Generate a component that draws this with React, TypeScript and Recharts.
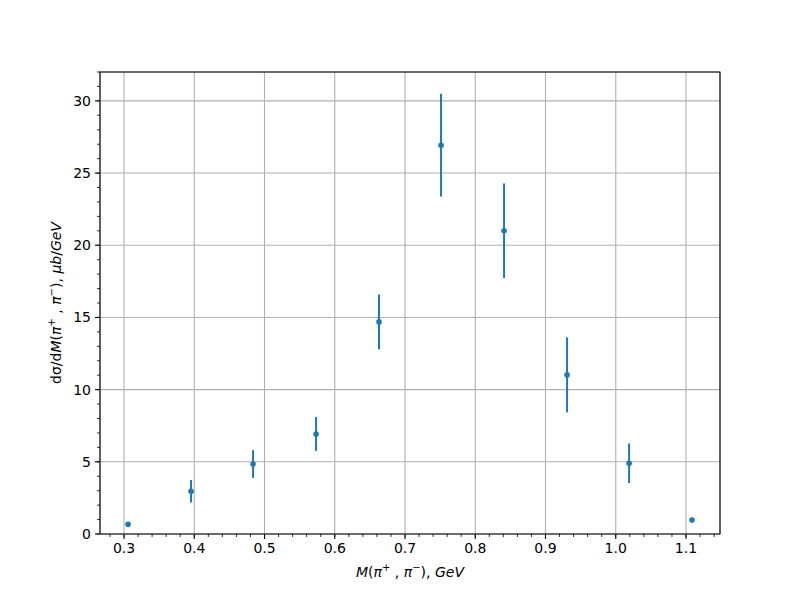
import {
  ScatterChart,
  Scatter,
  XAxis,
  YAxis,
  CartesianGrid,
  ErrorBar,
  ReferenceArea,
} from "recharts"

// invariant mass bins (GeV) and dσ/dM (μb/GeV) with errors
const massBins = [0.3057, 0.3954, 0.4837, 0.5734, 0.663, 0.7513, 0.841, 0.9307, 1.019, 1.1085]
const crossSection = [0.67, 2.96, 4.85, 6.93, 14.69, 26.93, 21.0, 11.02, 4.9, 0.97]
const crossSectionErr = [0.08, 0.78, 0.96, 1.18, 1.9, 3.56, 3.28, 2.6, 1.37, 0.15]

const xTicks = [0.3, 0.4, 0.5, 0.6, 0.7, 0.8, 0.9, 1.0, 1.1]
const yTicks = [0, 5, 10, 15, 20, 25, 30]
const xDomain: [number, number] = [0.2658, 1.1484]
const yDomain: [number, number] = [0, 32]

// minor ticks every 0.02 on x and every 1 on y
const xMinorTicks = Array.from({ length: 45 }, (_, i) => +(0.28 + i * 0.02).toFixed(2)).filter(
  (v) => v <= xDomain[1]
)
const yMinorTicks = Array.from({ length: 33 }, (_, i) => i)

const data = massBins.map((m, i) => ({ m, y: crossSection[i], err: crossSectionErr[i] }))

const BLUE = "#1f77b4"
const FONT = "'DejaVu Sans', sans-serif"

function Dot(props: { cx?: number; cy?: number }) {
  if (props.cx == null || props.cy == null) return null
  return <circle cx={props.cx} cy={props.cy} r={2.8} fill={BLUE} />
}

const supStyle = { fontSize: 10, verticalAlign: "6px", lineHeight: 0 }
const noLabel = () => <g />

// axis ids: "a" = minor ticks (stacked next to the plot), "b" = major ticks + labels
export default function App() {
  return (
    <div style={{ position: "absolute", left: 0, top: 0, width: 800, height: 600, background: "#fff", fontFamily: FONT }}>
      <ScatterChart width={800} height={600} margin={{ top: 72, right: 80, bottom: 15, left: 39 }}>
        <XAxis
          xAxisId="a"
          type="number"
          dataKey="m"
          domain={xDomain}
          allowDataOverflow
          ticks={xMinorTicks}
          interval={0}
          tick={noLabel}
          axisLine={false}
          tickLine={{ stroke: "#000", strokeWidth: 0.8 }}
          tickSize={3}
          height={1}
        />
        <YAxis
          yAxisId="a"
          type="number"
          dataKey="y"
          domain={yDomain}
          allowDataOverflow
          ticks={yMinorTicks}
          interval={0}
          tick={noLabel}
          axisLine={false}
          tickLine={{ stroke: "#000", strokeWidth: 0.8 }}
          tickSize={3}
          width={1}
        />
        <XAxis
          xAxisId="b"
          type="number"
          dataKey="m"
          domain={xDomain}
          allowDataOverflow
          ticks={xTicks}
          interval={0}
          tickFormatter={(v: number) => v.toFixed(1)}
          tick={{ fill: "#000", fontSize: 14, fontFamily: FONT }}
          axisLine={false}
          tickLine={{ stroke: "#000", strokeWidth: 1.1 }}
          tickSize={4}
          tickMargin={4}
          height={50}
        />
        <YAxis
          yAxisId="b"
          type="number"
          dataKey="y"
          domain={yDomain}
          allowDataOverflow
          ticks={yTicks}
          interval={0}
          tick={{ fill: "#000", fontSize: 14, fontFamily: FONT }}
          axisLine={false}
          tickLine={{ stroke: "#000", strokeWidth: 1.1 }}
          tickSize={4}
          tickMargin={4}
          width={60}
        />
        <CartesianGrid xAxisId="b" yAxisId="b" stroke="#b0b0b0" strokeWidth={1.1} />
        <ReferenceArea
          xAxisId="b"
          yAxisId="b"
          x1={xDomain[0]}
          x2={xDomain[1]}
          y1={yDomain[0]}
          y2={yDomain[1]}
          fill="none"
          stroke="#000"
          strokeWidth={1.1}
          fillOpacity={0}
        />
        <Scatter xAxisId="b" yAxisId="b" data={data} shape={<Dot />} isAnimationActive={false}>
          <ErrorBar dataKey="err" direction="y" width={0} stroke={BLUE} strokeWidth={2} />
        </Scatter>
      </ScatterChart>
      <div
        style={{
          position: "absolute",
          left: 410,
          top: 572,
          transform: "translate(-50%, -50%)",
          fontSize: 14,
          whiteSpace: "nowrap",
        }}
      >
        <i>M</i>(<i>π</i>
        <sup style={supStyle}>+</sup> ,
        <i> π</i>
        <sup style={supStyle}>−</sup>), <i>GeV</i>
      </div>
      <div
        style={{
          position: "absolute",
          left: 56,
          top: 303,
          transform: "translate(-50%, -50%) rotate(-90deg)",
          fontSize: 14,
          whiteSpace: "nowrap",
        }}
      >
        dσ/d<i>M</i>(<i>π</i>
        <sup style={supStyle}>+</sup> ,
        <i> π</i>
        <sup style={supStyle}>−</sup>), <i>μb</i>/<i>GeV</i>
      </div>
    </div>
  )
}
